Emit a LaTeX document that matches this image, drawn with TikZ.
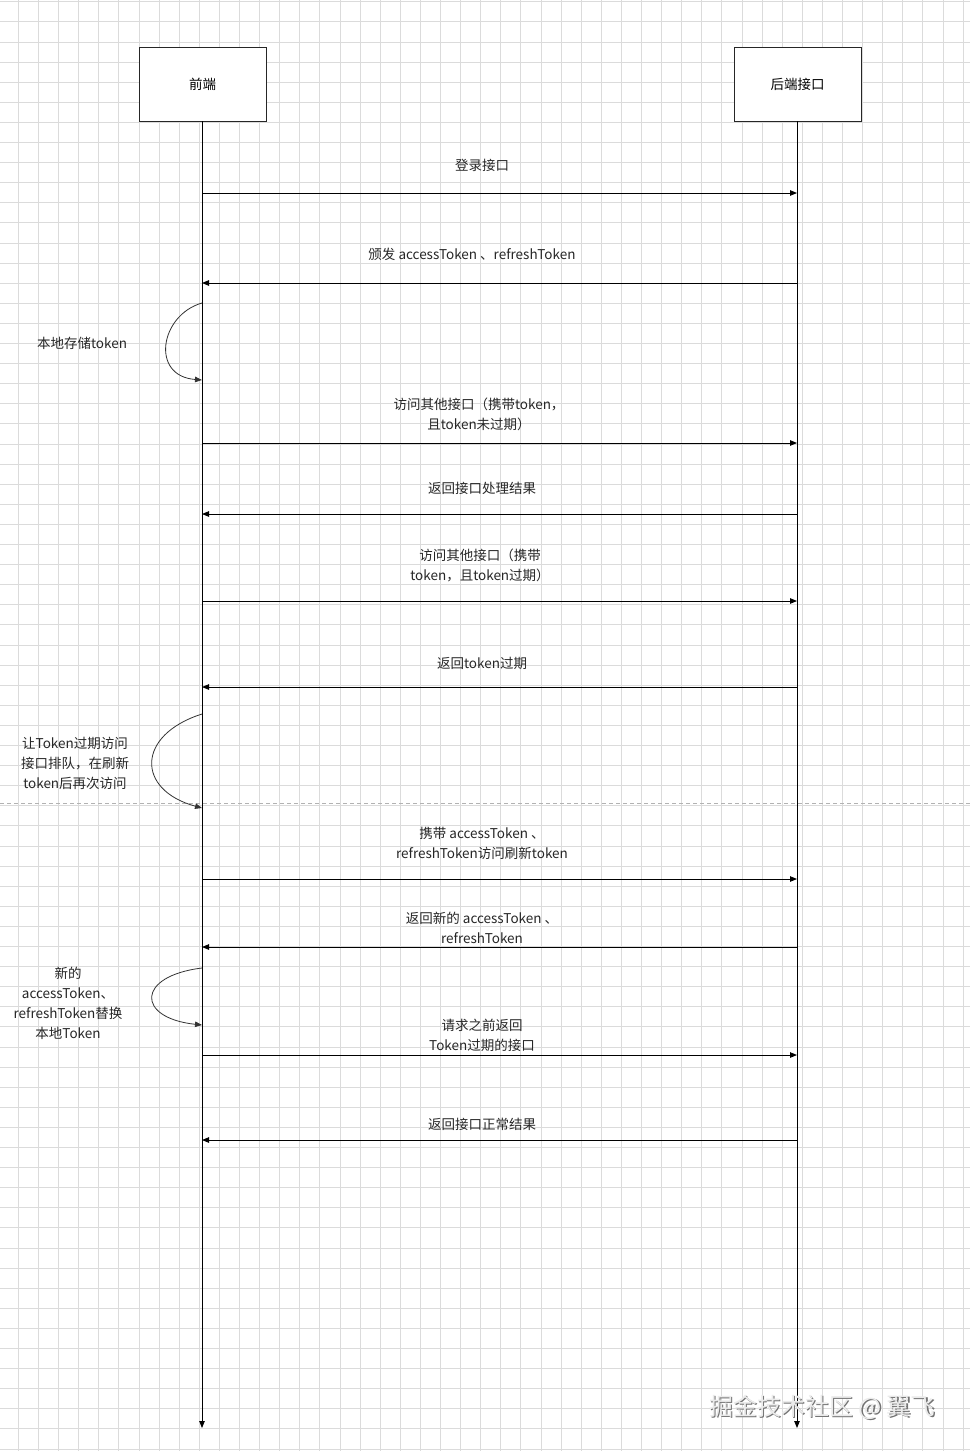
\documentclass[tikz,border=0pt]{standalone}
\usepackage{fontspec}
\setmainfont{Noto Sans CJK SC}
\usetikzlibrary{arrows.meta,shadows}
\tikzset{
  actor/.style={draw=black!85,line width=0.9pt,fill=white,minimum width=127pt,minimum height=74pt,inner sep=0pt,font=\fontsize{13.5pt}{20pt}\selectfont},
  msg/.style={draw=black,line width=0.9pt,-{Triangle[length=7pt,width=5.5pt]}},
  life/.style={draw=black,line width=0.9pt,-{Triangle[length=7pt,width=5.5pt]}},
  selfloop/.style={draw=black!80,line width=0.8pt,-{Triangle[length=7pt,width=5.5pt]}},
  lbl/.style={font=\fontsize{13.5pt}{20pt}\selectfont,align=center,inner sep=0pt,text=black!85},
  gridline/.style={draw=black!14,line width=0.8pt}
}
\begin{document}
\begin{tikzpicture}[x=1pt,y=-1pt]
\useasboundingbox (0,0) rectangle (970,1451);
\fill[white] (0,0) rectangle (970,1451);
% background grid
\foreach \i in {0,...,48} {\draw[gridline] ({-1.8+20.1*\i},0) -- ({-1.8+20.1*\i},1451);}
\foreach \j in {0,...,72} {\draw[gridline] (0,{1.7+20.1*\j}) -- (970,{1.7+20.1*\j});}
% seam line
\draw[black!30,dashed,line width=0.6pt,dash pattern=on 4pt off 3pt] (0,803) -- (970,803);

% actors
\node[actor] (fe) at (202.5,84) {前端};
\node[actor] (be) at (797.5,84) {后端接口};
\coordinate (feend) at (202,1428);
\coordinate (beend) at (797,1428);
\draw[life] (fe.south -| feend) -- (feend);
\draw[life] (be.south -| beend) -- (beend);

% message endpoints
\foreach \n/\y in {m1/193,m2/283,m4/443,m5/514,m6/601,m7/687,m9/879,m10/947,m12/1055,m13/1140} {
  \coordinate (\n L) at (202,\y);
  \coordinate (\n R) at (797,\y);
}
\draw[msg] (m1L) -- (m1R);
\node[lbl] (t1) at (482,165) {登录接口};
\draw[msg] (m2R) -- (m2L);
\node[lbl] (t2) at (472,254) {颁发 accessToken 、refreshToken};
\draw[msg] (m4L) -- (m4R);
\node[lbl] (t4) at (479,414) {访问其他接口（携带token，\\且token未过期）};
\draw[msg] (m5R) -- (m5L);
\node[lbl] (t5) at (482,488) {返回接口处理结果};
\draw[msg] (m6L) -- (m6R);
\node[lbl] (t6) at (480,565) {访问其他接口（携带\\token，且token过期）};
\draw[msg] (m7R) -- (m7L);
\node[lbl] (t7) at (482,663) {返回token过期};
\draw[msg] (m9L) -- (m9R);
\node[lbl] (t9) at (482,843) {携带 accessToken 、\\refreshToken访问刷新token};
\draw[msg] (m10R) -- (m10L);
\node[lbl] (t10) at (482,928) {返回新的 accessToken 、\\refreshToken};
\draw[msg] (m12L) -- (m12R);
\node[lbl] (t12) at (482,1035) {请求之前返回\\Token过期的接口};
\draw[msg] (m13R) -- (m13L);
\node[lbl] (t13) at (482,1124) {返回接口正常结果};

% self loops
\coordinate (s1a) at (202,303); \coordinate (s1b) at (202,380);
\draw[selfloop] (s1a) .. controls (160,315) and (150,376) .. (s1b);
\node[lbl] (l1) at (82,343) {本地存储token};
\coordinate (s2a) at (202,714); \coordinate (s2b) at (202,808);
\draw[selfloop] (s2a) .. controls (136,735) and (136,790) .. (s2b);
\node[lbl] (l2) at (75,763) {让Token过期访问\\接口排队，在刷新\\token后再次访问};
\coordinate (s3a) at (202,968); \coordinate (s3b) at (202,1025);
\draw[selfloop] (s3a) .. controls (136,976) and (136,1018) .. (s3b);
\node[lbl] (l3) at (68,1003) {新的\\accessToken、\\refreshToken替换\\本地Token};

% watermark
\node[font=\fontsize{24pt}{28pt}\selectfont,text=black!55,inner sep=0pt] (wms) at (823.5,1408.5) {掘金技术社区 @ 翼飞};
\node[font=\fontsize{24pt}{28pt}\selectfont,text=white!92!black,inner sep=0pt] (wm) at (822,1407) {掘金技术社区 @ 翼飞};
\end{tikzpicture}
\end{document}
